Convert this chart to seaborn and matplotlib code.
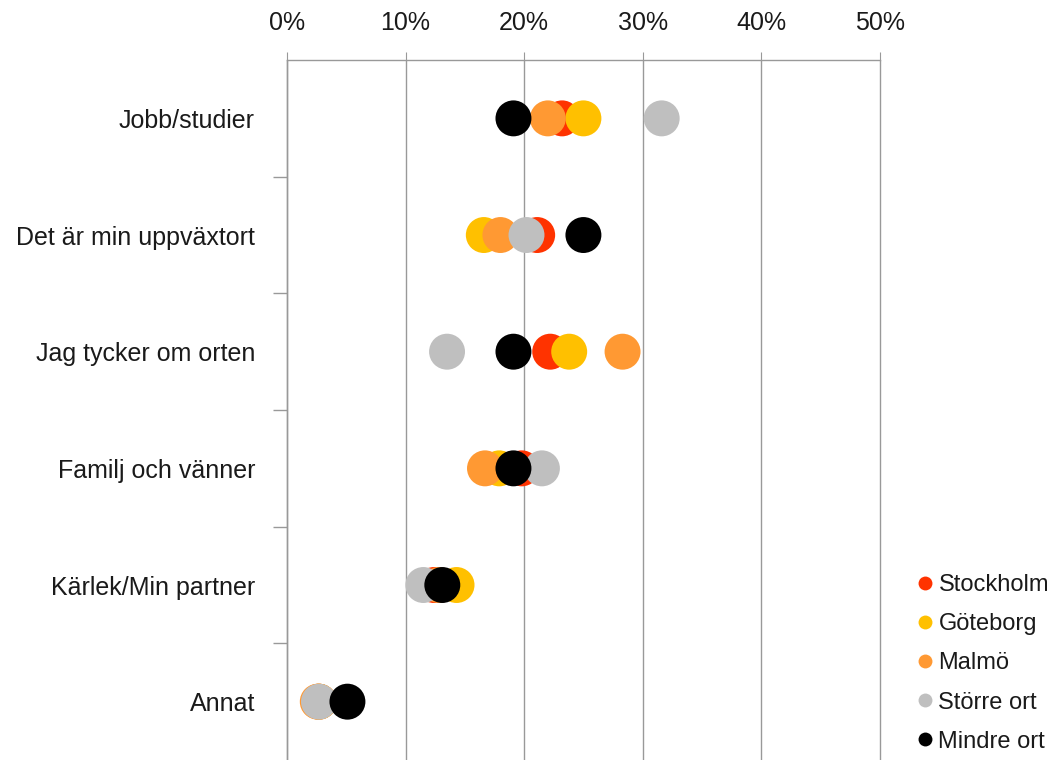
import pandas as pd
import matplotlib.pyplot as plt
import seaborn as sns
from matplotlib.lines import Line2D
from matplotlib.ticker import FixedLocator, PercentFormatter

# === Data ===
categories = ["Jobb/studier", "Det är min uppväxtort", "Jag tycker om orten",
              "Familj och vänner", "Kärlek/Min partner", "Annat"]
series = ["Stockholm", "Göteborg", "Malmö", "Större ort", "Mindre ort"]

stockholm = [23.2, 21.1, 22.2, 19.8, 12.4, 2.7]
goteborg  = [25.0, 16.6, 23.8, 17.9, 14.3, 2.7]
malmo     = [22.0, 18.0, 28.3, 16.7, 12.8, 2.6]
storre    = [31.6, 20.2, 13.5, 21.5, 11.5, 2.7]
mindre    = [19.1, 25.0, 19.1, 19.1, 13.1, 5.1]

colors = ["#FF3300", "#FFC000", "#FF9933", "#BFBFBF", "#000000"]

values = [stockholm, goteborg, malmo, storre, mindre]
rows = []
for name, vals in zip(series, values):
    for cat, v in zip(categories, vals):
        rows.append({"reason": cat, "value": v, "series": name})
df = pd.DataFrame(rows)

# === Plot ===
sns.set_style("white")
plt.rcParams["font.family"] = ["Liberation Sans", "DejaVu Sans"]

fig = plt.figure(figsize=(10.55, 7.6), dpi=100)
ax = fig.add_axes([0.272, 0.0, 0.562, 0.921])

sns.scatterplot(data=df, x="value", y="reason", hue="series",
                hue_order=series, palette=colors, s=670, linewidth=0,
                legend=False, ax=ax, zorder=3)

ax.set_xlim(0, 50)
ax.set_ylim(5.5, -0.5)
ax.set_xticks([0, 10, 20, 30, 40, 50])
ax.xaxis.set_major_formatter(PercentFormatter(decimals=0))
ax.xaxis.tick_top()
ax.grid(True, axis="x", color="#999999", linewidth=1)
ax.set_axisbelow(True)
for gl in ax.get_xgridlines():
    gl.set_clip_on(False)

ax.tick_params(axis="x", top=True, length=6, color="#999999", pad=12,
               labelsize=18, labelcolor="#1a1a1a")
ax.tick_params(axis="y", which="major", length=0, pad=23, labelsize=18,
               labelcolor="#1a1a1a")
ax.yaxis.set_minor_locator(FixedLocator([0.5, 1.5, 2.5, 3.5, 4.5]))
ax.tick_params(axis="y", which="minor", left=True, length=10,
               color="#999999", width=1)

ax.set_xlabel("")
ax.set_ylabel("")
for side in ["right", "bottom"]:
    ax.spines[side].set_visible(False)
for side in ["top", "left"]:
    ax.spines[side].set_color("#999999")
    ax.spines[side].set_linewidth(1)

handles = [Line2D([0], [0], marker="o", linestyle="", markersize=10,
                  markerfacecolor=c, markeredgewidth=0) for c in colors]
fig.legend(handles, series, loc="upper left", bbox_to_anchor=(0.866, 0.245),
           frameon=False, fontsize=17, handletextpad=0.05, labelspacing=0.73,
           handlelength=1.0, borderaxespad=0, borderpad=0,
           labelcolor="#1a1a1a")

fig.savefig("out.png", dpi=100)
